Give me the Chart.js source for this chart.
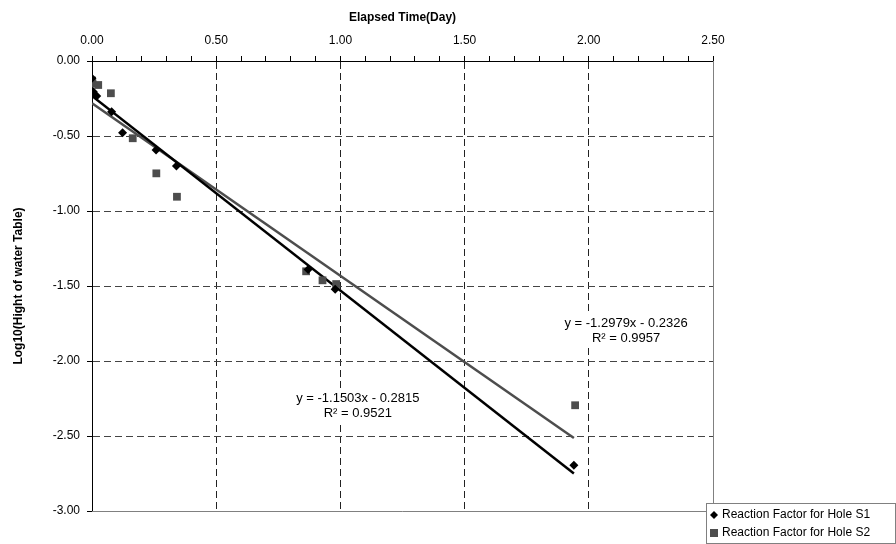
<!DOCTYPE html>
<html>
<head>
<meta charset="utf-8">
<script src="https://cdn.jsdelivr.net/npm/chart.js@4"></script>
<style>
  body { margin: 0; background: #fff; }
  #wrap { width: 896px; height: 544px; }
</style>
</head>
<body>
<div id="wrap"><canvas id="chart" width="896" height="544"></canvas></div>
<script>
// values
const s1X = [0, 0.005, 0.019, 0.079, 0.123, 0.258, 0.34, 0.87, 0.979, 1.94];
const s1Y = [-0.115, -0.205, -0.233, -0.338, -0.478, -0.593, -0.70, -1.39, -1.522, -2.695];
const s2X = [0, 0.002, 0.025, 0.076, 0.164, 0.259, 0.342, 0.862, 0.928, 0.983, 1.945];
const s2Y = [-0.13, -0.15, -0.16, -0.215, -0.515, -0.749, -0.905, -1.402, -1.462, -1.487, -2.295];

// trend line ends (x = 0 and last sample)
const trendX = [0, 1.94];
const s1Trend = [-0.2326, -2.7505];
const s2Trend = [-0.2815, -2.5131];

const seriesNames = ["Reaction Factor for Hole S1", "Reaction Factor for Hole S2"];
const eqText1 = ["y = -1.2979x - 0.2326", "R\u00B2 = 0.9957"];
const eqText2 = ["y = -1.1503x - 0.2815", "R\u00B2 = 0.9521"];
// where each equation label sits (data units)
const eqAt1 = [2.15, -1.747];
const eqAt2 = [1.07, -2.247];

const xTitle = "Elapsed Time(Day)";
const yTitle = "Log10(Hight of water Table)";

function pts(xs, ys) {
  return xs.map((x, i) => ({ x: x, y: ys[i] }));
}

const FONT = "'Liberation Sans', Arial, sans-serif";
const S2_GRAY = "#4d4d4d";

function isMajor(v) {
  return Math.abs(v * 2 - Math.round(v * 2)) < 1e-6;
}

// gray right / bottom frame, equation labels and the legend box
const extras = {
  id: "extras",
  beforeDatasetsDraw(chart) {
    const a = chart.chartArea;
    const c = chart.ctx;
    c.save();
    c.strokeStyle = "#808080";
    c.lineWidth = 1;
    c.beginPath();
    c.moveTo(a.right + 0.5, a.top);
    c.lineTo(a.right + 0.5, a.bottom + 0.5);
    c.lineTo(a.left, a.bottom + 0.5);
    c.stroke();
    c.restore();
  },
  afterDraw(chart) {
    const c = chart.ctx;
    const xs = chart.scales.x;
    const ys = chart.scales.y;
    c.save();
    c.font = "13px " + FONT;
    c.textAlign = "center";
    c.textBaseline = "middle";
    [[eqAt1, eqText1], [eqAt2, eqText2]].forEach(([at, lines]) => {
      const px = xs.getPixelForValue(at[0]);
      const py = ys.getPixelForValue(at[1]);
      // labels sit on a white box like the spreadsheet ones
      const w = Math.max(...lines.map(t => c.measureText(t).width)) + 6;
      c.fillStyle = "#fff";
      c.fillRect(px - w / 2, py - 9, w, 33);
      c.fillStyle = "#000";
      c.fillText(lines[0], px, py);
      c.fillText(lines[1], px, py + 15);
    });

    // legend
    const lx = 706.5, ly = 503.5, lw = 189, lh = 40;
    c.font = "12px " + FONT;
    c.fillStyle = "#fff";
    c.fillRect(lx, ly, lw, lh);
    c.strokeStyle = "#808080";
    c.strokeRect(lx, ly, lw, lh);
    c.textAlign = "left";
    chart.data.datasets.filter(d => d.legend).forEach((d, i) => {
      const cy = 515 + i * 18;
      c.fillStyle = d.backgroundColor;
      c.beginPath();
      if (d.pointStyle === "rectRot") {
        c.moveTo(714, cy - 4);
        c.lineTo(718, cy);
        c.lineTo(714, cy + 4);
        c.lineTo(710, cy);
        c.closePath();
        c.fill();
      } else {
        c.fillRect(710, cy - 4, 8, 8);
      }
      c.fillStyle = "#000";
      c.fillText(d.label, 722, cy);
    });
    c.restore();
  }
};

const data = {
  datasets: [
    {
      label: seriesNames[0],
      legend: true,
      data: pts(s1X, s1Y),
      pointStyle: "rectRot",
      pointRadius: 4.5,
      backgroundColor: "#000",
      borderColor: "#000",
      borderWidth: 0,
      order: 1,
    },
    {
      label: seriesNames[1],
      legend: true,
      data: pts(s2X, s2Y),
      pointStyle: "rect",
      pointRadius: 5.5,
      backgroundColor: S2_GRAY,
      borderColor: S2_GRAY,
      borderWidth: 0,
      order: 1,
    },
    {
      label: "trend S1",
      data: pts(trendX, s1Trend),
      showLine: true,
      pointRadius: 0,
      borderColor: "#000",
      borderWidth: 2.5,
      order: 2,
    },
    {
      label: "trend S2",
      data: pts(trendX, s2Trend),
      showLine: true,
      pointRadius: 0,
      borderColor: S2_GRAY,
      borderWidth: 2.5,
      order: 3,
    },
  ],
};

const config = {
  type: "scatter",
  data: data,
  options: {
    responsive: false,
    animation: false,
    devicePixelRatio: 1,
    layout: { padding: { left: 0, top: 0, right: 183, bottom: 33 } },
    plugins: {
      legend: { display: false },
      tooltip: { enabled: false },
    },
    scales: {
      x: {
        type: "linear",
        position: "top",
        min: 0,
        max: 2.5,
        afterFit: (s) => { s.height = 61; },
        ticks: {
          stepSize: 0.1,
          autoSkip: false,
          maxRotation: 0,
          padding: 8,
          color: "#000",
          font: { family: FONT, size: 12 },
          callback: (v) => (isMajor(v) ? v.toFixed(2) : ""),
        },
        grid: {
          tickLength: 5,
          tickColor: "#000",
          color: (ctx) => {
            const v = ctx.tick ? ctx.tick.value : 0;
            if (!isMajor(v) || v < 0.01 || v > 2.49) return "rgba(0,0,0,0)";
            return "#222";
          },
        },
        border: { color: "#000", width: 1, dash: [7, 4] },
        title: {
          display: true,
          text: xTitle,
          color: "#000",
          font: { family: FONT, size: 12, weight: "bold" },
          padding: { top: 10, bottom: 0 },
        },
      },
      y: {
        type: "linear",
        min: -3,
        max: 0,
        afterFit: (s) => { s.width = 92; },
        ticks: {
          stepSize: 0.5,
          padding: 7,
          color: "#000",
          font: { family: FONT, size: 12 },
          callback: (v) => v.toFixed(2),
        },
        grid: {
          tickLength: 5,
          tickColor: "#000",
          color: (ctx) => {
            const v = ctx.tick ? ctx.tick.value : 0;
            if (v > -0.01 || v < -2.99) return "rgba(0,0,0,0)";
            return "#444";
          },
        },
        border: { color: "#000", width: 1, dash: [7, 4] },
        title: {
          display: true,
          text: yTitle,
          color: "#000",
          font: { family: FONT, size: 12, weight: "bold" },
          padding: { top: 11, bottom: 0 },
        },
      },
    },
  },
  plugins: [extras],
};

const ctx = document.getElementById("chart").getContext("2d");
new Chart(ctx, config);
</script>
</body>
</html>
